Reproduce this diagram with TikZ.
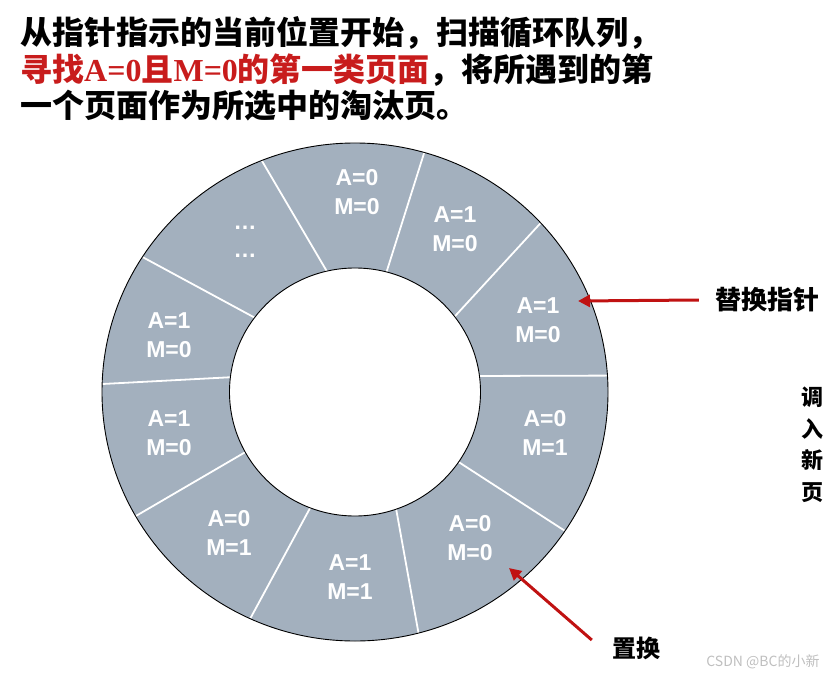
\documentclass[tikz,border=0pt]{standalone}
\usepackage{fontspec}
\setmainfont{Liberation Serif}
\newfontfamily\cjk{Noto Sans CJK SC}
\newfontfamily\arial{Liberation Sans}
\usetikzlibrary{positioning}
\usetikzlibrary{calc}
\usetikzlibrary{arrows.meta}
\definecolor{ringgray}{RGB}{163,176,190}
\definecolor{titlered}{RGB}{200,28,28}
\definecolor{arrowred}{RGB}{192,18,18}

\begin{document}
\begin{tikzpicture}[x=1pt, y=-1pt,
    cell/.style = {text=white, font=\arial\bfseries\fontsize{23}{28.5}\selectfont, align=center, inner sep=0pt},
    title/.style = {anchor=west, inner sep=0pt, font=\cjk\bfseries\fontsize{32}{36}\selectfont},
    note/.style = {inner sep=0pt, font=\cjk\bfseries\fontsize{26}{30}\selectfont},
    pointer/.style = {draw=arrowred, line width=3pt, -{Triangle[length=12pt, width=12pt]}},
    divider/.style = {draw=white, line width=1.8pt}
  ]
  \useasboundingbox (0,0) rectangle (837,679);

  \node[title] (line1) at (20,33) {从指针指示的当前位置开始，扫描循环队列，};
  \node[title] (line2) at (20,70) {{\color{titlered}寻找{\rmfamily A=0}且{\rmfamily M=0}的第一类页面}，将所遇到的第};
  \node[title] (line3) at (20,106) {一个页面作为所选中的淘汰页。};

  % ring of pages
  \coordinate (ring) at (355,392);
  \fill[ringgray, even odd rule] (ring) ellipse [x radius=253pt, y radius=249pt]
    (ring) ellipse [x radius=125.5pt, y radius=124pt];
  \foreach \i/\o in {102.7/111.7, 75.5/74.1, 37.3/42.8, 7.55/3.75, -34.4/-33.9,
                     -70.7/-75.5, -110.8/-114.5, -151/-150.1, 173/178.2, 143/147.2}
    \draw[divider] ($(ring)+(\i:123.5pt and 122pt)$) -- ($(ring)+(\o:255pt and 251pt)$);
  \draw[line width=0.9pt] (ring) ellipse [x radius=253pt, y radius=249pt];
  \draw[line width=0.9pt] (ring) ellipse [x radius=125.5pt, y radius=124pt];

  \node[cell] (p1) at (357,192) {A=0\\M=0};
  \node[cell] (p2) at (455,229) {A=1\\M=0};
  \node[cell] (p3) at (538,320) {A=1\\M=0};
  \node[cell] (p4) at (545,433) {A=0\\M=1};
  \node[cell] (p5) at (470,538) {A=0\\M=0};
  \node[cell] (p6) at (350,577) {A=1\\M=1};
  \node[cell] (p7) at (229,533) {A=0\\M=1};
  \node[cell] (p8) at (169,433) {A=1\\M=0};
  \node[cell] (p9) at (169,335) {A=1\\M=0};
  \node[cell] (p10) at (245,242) {…\\…};

  \node[note] (ptr) at (767,300) {替换指针};
  \coordinate (ptrtip) at (578,301);
  \draw[pointer] ([xshift=-16pt]ptr.west) -- (ptrtip);

  \node[note, font=\cjk\bfseries\fontsize{24}{28}\selectfont] (swap) at (636,648) {置换};
  \coordinate (swaptip) at (509,568);
  \draw[pointer] ([shift={(-20,-8)}]swap.west) -- (swaptip);

  \node[note, align=center, font=\cjk\bfseries\fontsize{22}{31.5}\selectfont] (newpage) at (812,445) {调\\入\\新\\页};

  \node[inner sep=0pt, text=black!25, font=\cjk\fontsize{14}{16}\selectfont] (mark) at (763,662) {CSDN @BC的小新};
\end{tikzpicture}
\end{document}
